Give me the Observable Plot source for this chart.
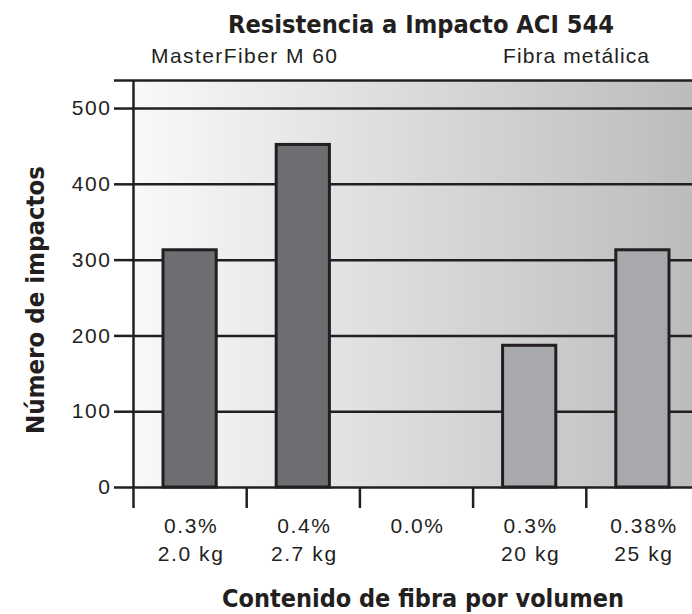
<!DOCTYPE html>
<html>
<head>
<meta charset="utf-8">
<script src="https://cdn.jsdelivr.net/npm/d3@7"></script>
<script src="https://cdn.jsdelivr.net/npm/@observablehq/plot@0.6"></script>
<style>
  html, body { margin: 0; padding: 0; background: #ffffff; }
  #chart { width: 692px; height: 614px; overflow: hidden; }
</style>
</head>
<body>
<div id="chart"></div>
<script>
// ---- data ----
const categories = ["0.3%\n2.0 kg", "0.4%\n2.7 kg", "0.0%", "0.3%\n20 kg", "0.38%\n25 kg"];
const impacts = [313, 452, 0, 187, 313];
const groups = ["MasterFiber M 60", "MasterFiber M 60", "", "Fibra metálica", "Fibra metálica"];
const yTicks = [0, 100, 200, 300, 400, 500];
const yTop = 537;
const title = "Resistencia a Impacto ACI 544";
const xTitle = "Contenido de fibra por volumen";
const yTitle = "Número de impactos";

const groupColors = {"MasterFiber M 60": "#6d6e71", "Fibra metálica": "#a7a9ac"};
const ink = "#231f20";
const boldFont = "'DejaVu Sans Condensed', 'Liberation Sans Narrow', 'Liberation Sans', sans-serif";
const lightFont = "'Liberation Sans', 'Helvetica Neue', Arial, sans-serif";

const rows = categories.map((c, i) => ({i, label: c, value: impacts[i], group: groups[i]}));
const bars = rows.filter(d => d.value > 0);
const boundaries = d3.range(categories.length + 1);

const gradientDefs = () => {
  const defs = d3.create("svg:defs");
  const g = defs.append("linearGradient")
    .attr("id", "bggrad")
    .attr("gradientUnits", "userSpaceOnUse")
    .attr("x1", 133).attr("x2", 692).attr("y1", 0).attr("y2", 0);
  g.append("stop").attr("offset", "0%").attr("stop-color", "#f9f9f9");
  g.append("stop").attr("offset", "100%").attr("stop-color", "#bbbcbe");
  return defs.node();
};

const svg = Plot.plot({
  width: 692,
  height: 614,
  marginLeft: 133,
  marginRight: -7,
  marginTop: 80,
  marginBottom: 127,
  style: {background: "#ffffff", fontFamily: lightFont, color: ink, letterSpacing: "1.6px"},
  x: {domain: [0, categories.length], axis: null},
  y: {domain: [0, yTop], axis: null},
  marks: [
    gradientDefs,
    Plot.frame({fill: "url(#bggrad)", stroke: "none"}),
    Plot.gridY([...yTicks, yTop], {stroke: ink, strokeOpacity: 1, strokeWidth: 2.5}),
    Plot.axisY([...yTicks, yTop], {
      tickSize: 19, tickPadding: 3, stroke: ink, strokeWidth: 2.5,
      tickFormat: d => (d === yTop ? "" : d3.format("d")(d)),
      fontSize: 21, fill: ink, label: null
    }),
    Plot.rectY(bars, {
      x1: "i", x2: d => d.i + 1, y: "value",
      fill: d => groupColors[d.group],
      stroke: ink, strokeWidth: 3,
      insetLeft: 30, insetRight: 30
    }),
    Plot.ruleX([0], {y1: 0, y2: yTop, stroke: ink, strokeWidth: 2.5}),
    Plot.axisX(boundaries, {
      tickSize: 21, stroke: ink, strokeWidth: 2.5,
      tickFormat: () => "", label: null
    }),
    Plot.text(rows, {
      x: d => d.i + 0.5, y: 0, text: "label",
      lineAnchor: "top", dy: 25, dx: 1, lineHeight: 1.35,
      fontSize: 21, fill: ink
    })
  ]
});

const s = d3.select(svg);
function addText(txt, opts) {
  const t = s.append("text")
    .attr("fill", ink)
    .attr("text-anchor", opts.anchor || "middle")
    .style("font-family", opts.font)
    .style("font-weight", opts.weight || "normal")
    .style("font-size", opts.size + "px")
    .style("letter-spacing", "0px")
    .text(txt);
  if (opts.transform) t.attr("transform", opts.transform);
  else t.attr("x", opts.x).attr("y", opts.y);
  if (opts.len) t.attr("textLength", opts.len).attr("lengthAdjust", opts.adjust || "spacingAndGlyphs");
  return t;
}
addText(title, {x: 421, y: 33, font: boldFont, weight: "bold", size: 25, len: 386});
addText(groups[0], {x: 151, y: 63, anchor: "start", font: lightFont, size: 21, len: 186, adjust: "spacing"});
addText(groups[3], {x: 503, y: 63, anchor: "start", font: lightFont, size: 21, len: 146, adjust: "spacing"});
addText(yTitle, {transform: "translate(44,300) rotate(-90)", font: boldFont, weight: "bold", size: 25, len: 268});
addText(xTitle, {x: 423, y: 607, font: boldFont, weight: "bold", size: 25, len: 402});

document.getElementById("chart").appendChild(svg);
</script>
</body>
</html>
